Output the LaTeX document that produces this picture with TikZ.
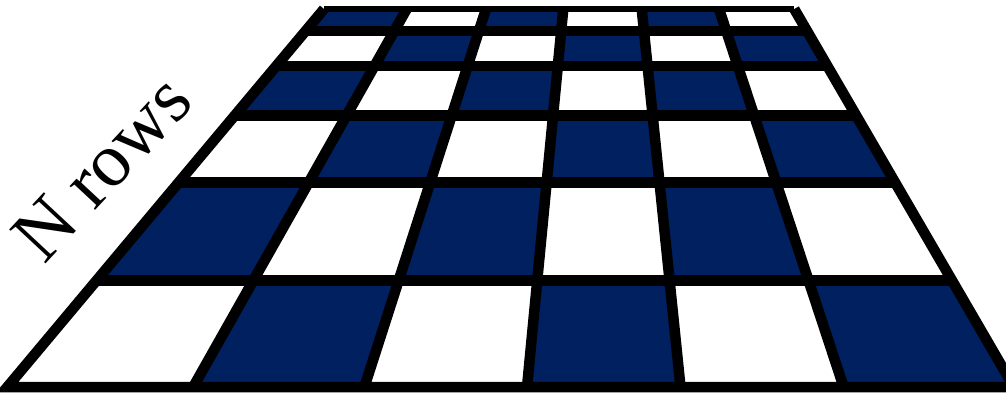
\documentclass[tikz,border=0pt]{standalone}
\usepackage{fontspec}
\setmainfont{Liberation Serif}
\usetikzlibrary{calc}
\definecolor{boardblue}{HTML}{002060}
\begin{document}
\begin{tikzpicture}[x=1pt,y=-1pt,
  gridline/.style={line width=10.5pt,draw=black},
  topline/.style={line width=6.5pt,draw=black},
  cellfill/.style={fill=boardblue},
  labeltext/.style={font=\fontsize{76}{88}\selectfont, rotate=47, inner sep=0pt}]
\fill[white] (0,0) rectangle (1006,392);
\clip (0,0) rectangle (1006,392);
% vertical guide lines: top point (y=12) and bottom point (y=382)
\foreach \i/\a/\b in {0/321.5/11.5, 1/405/196, 2/485/366, 3/563/527.5, 4/642/680, 5/720/842, 6/796/1011} {
  \coordinate (T\i) at (\a,12);
  \coordinate (B\i) at (\b,382);
}
% grid points
\foreach \i in {0,...,6} {
  \foreach \j/\t in {0/-0.00811, 1/0.05135, 2/0.14595, 3/0.27973, 4/0.46081, 5/0.72568, 6/1.01351} {
    \coordinate (P\i-\j) at ($(T\i)!\t!(B\i)$);
  }
}
% blue cells
\foreach \r in {1,...,6} {
  \foreach \c in {1,...,6} {
    \pgfmathtruncatemacro{\pr}{\r-1}
    \pgfmathtruncatemacro{\pc}{\c-1}
    \pgfmathtruncatemacro{\oddcell}{mod(\r+\c,2)}
    \ifnum\oddcell=0
      \fill[cellfill] (P\pc-\pr) -- (P\c-\pr) -- (P\c-\r) -- (P\pc-\r) -- cycle;
    \fi
  }
}
% inner lines
\foreach \j in {1,...,5} \draw[gridline] (P0-\j) -- (P6-\j);
\foreach \i in {1,...,5} \draw[gridline] (P\i-0) -- (P\i-6);
% frame
\draw[gridline, line join=miter] (P0-0) -- (P0-6) -- (P6-6) -- (P6-0);
\draw[topline] (P0-0) -- (P6-0);
% label
\node[labeltext] (rowslabel) at (102,168) {N rows};
\end{tikzpicture}
\end{document}
